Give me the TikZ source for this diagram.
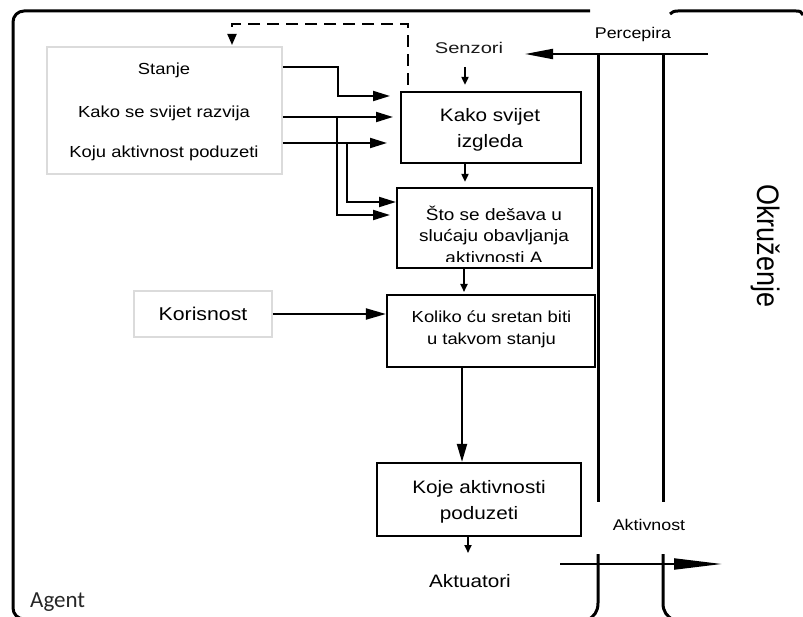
\documentclass[tikz,border=0pt]{standalone}
\usepackage{graphicx}
\usepackage{fontspec}
\setmainfont[FakeStretch=1.15]{Liberation Sans}
\newfontfamily\plainsans{Liberation Sans}
\newfontfamily\agentfont{Carlito}
\usetikzlibrary{arrows.meta}
\begin{document}
\begin{tikzpicture}[x=1pt,y=-1pt,
  box/.style={draw=black, line width=2.2pt, inner sep=0pt},
  lbox/.style={draw=black!14, line width=1.5pt, inner sep=0pt},
  txt/.style={anchor=base, inner sep=0pt},
  fa/.style={txt, font=\fontsize{16}{19}\selectfont},
  fb/.style={txt, font=\fontsize{18}{21}\selectfont},
  fc/.style={txt, font=\fontsize{15.5}{18}\selectfont},
  sarr/.style={line width=1.8pt, -{Triangle[length=8pt,width=7pt]}},
  barr/.style={line width=2pt, -{Triangle[length=17pt,width=10pt]}},
  frameline/.style={line width=3pt},
]
\useasboundingbox (0,0) rectangle (803,617);

% ---------- frames ----------
\draw[frameline, rounded corners=11pt] (590,11) -- (13,11) -- (13,619) -- (40,619);
\draw[frameline] (670,14) .. controls (672,12) and (674,11) .. (678,11) -- (796,11)
   .. controls (800,11) and (802,12) .. (803,15);
\draw[frameline] (598,55) -- (598,502);
\draw[frameline] (598,554) -- (598,603) .. controls (598,612) and (594,616) .. (588,620);
\draw[frameline] (663,55) -- (663,502);
\draw[frameline] (663,554) -- (663,603) .. controls (663,612) and (667,616) .. (673,620);

% ---------- boxes ----------
\node[lbox, minimum width=235pt, minimum height=127pt] (stanje) at (164.5,110.5) {};
\node[lbox, minimum width=138pt, minimum height=46pt] (koris) at (203,314) {};
\node[box, minimum width=180pt, minimum height=71pt] (kako) at (491,127.5) {};
\node[box, minimum width=195pt, minimum height=80pt] (sto) at (494.5,228) {};
\node[box, minimum width=208pt, minimum height=72pt] (koliko) at (491,331) {};
\node[box, minimum width=204pt, minimum height=73pt] (koje) at (479,499.5) {};

% ---------- texts ----------
\node[fa] (st1) at (164,75) {Stanje};
\node[fa] (st2) at (164,118) {Kako se svijet razvija};
\node[fa] (st3) at (164,158) {Koju aktivnost poduzeti};
\node[txt, font=\fontsize{15.5}{18}\selectfont, text=black!90] (senz) at (469,54) {\scalebox{1.13}[1]{Senzori}};
\node[fc] (perc) at (633,39) {Percepira};
\node[fb] (ka1) at (490,122) {Kako svijet};
\node[fb] (ka2) at (490,148) {izgleda};
\node[txt, font=\fontsize{16.5}{20}\selectfont] (so1) at (494,221) {Što se dešava u};
\node[txt, font=\fontsize{16.5}{20}\selectfont] (so2) at (494,242) {slućaju obavljanja};
\begin{scope}
  \clip (397,188) rectangle (592,261.5);
  \node[txt, font=\fontsize{16.5}{20}\selectfont] (so3) at (494,263.5) {aktivnosti A};
\end{scope}
\node[fa] (ko1) at (491.5,323) {Koliko ću sretan biti};
\node[fa] (ko2) at (491.5,345) {u takvom stanju};
\node[txt, font=\fontsize{18.5}{22}\selectfont] (kor) at (203,321) {Korisnost};
\node[fb] (kj1) at (479,493) {Koje aktivnosti};
\node[fb] (kj2) at (479,519) {poduzeti};
\node[fb] (aktu) at (470,587) {Aktuatori};
\node[fc] (aktiv) at (649,530) {Aktivnost};
\node[anchor=base west, inner sep=0pt, font=\agentfont\fontsize{23}{27}\selectfont, text=black!85] (agent) at (30,607) {Agent};
\node[anchor=base, inner sep=0pt, rotate=-90, font=\plainsans\fontsize{27}{30}\selectfont] (okr) at (757,246) {\scalebox{1}[1.15]{Okruženje}};

% ---------- coordinates ----------
\coordinate (pin) at (525,54);
\coordinate (penv) at (708,54);
\coordinate (aout) at (560,564);
\coordinate (aenv) at (722,564);
\coordinate (dstart) at (408,85);
\coordinate (dend) at (232,45);

% ---------- connectors ----------
\draw[line width=2pt, -{Triangle[length=28pt,width=10pt]}] (penv) -- (pin);
\draw[line width=2pt, -{Triangle[length=48pt,width=11pt]}] (aout) -- (aenv);
\draw[line width=2pt, dash pattern=on 12pt off 7pt, -{Triangle[length=11pt,width=9pt]}]
   (dstart) -- (408,24) -- (232,24) -- (dend);

\draw[sarr, shorten >=6pt] (465,67) -- (kako.north -| 465,0);
\draw[sarr, shorten >=5pt] (kako.south -| 465,0) -- (sto.north -| 465,0);
\draw[sarr] (sto.south -| 464,0) -- (464,292);
\draw[line width=2pt, -{Triangle[length=18pt,width=10pt]}] (koliko.south -| 462,0) -- (koje.north -| 462,0);
\draw[sarr] (koje.south -| 468,0) -- (468,553);

\draw[barr] (stanje.east |- 0,67) -- (338,67) -- (338,96) -- (390,96);
\draw[barr] (stanje.east |- 0,117) -- (393,117);
\draw[barr] (stanje.east |- 0,143) -- (387,143);
\draw[barr] (337,117) |- (390,215);
\draw[barr] (347,143) |- (396,202);
\draw[line width=2pt, -{Triangle[length=20pt,width=11pt]}] (koris.east) -- (koliko.west |- koris.east);
\end{tikzpicture}
\end{document}
